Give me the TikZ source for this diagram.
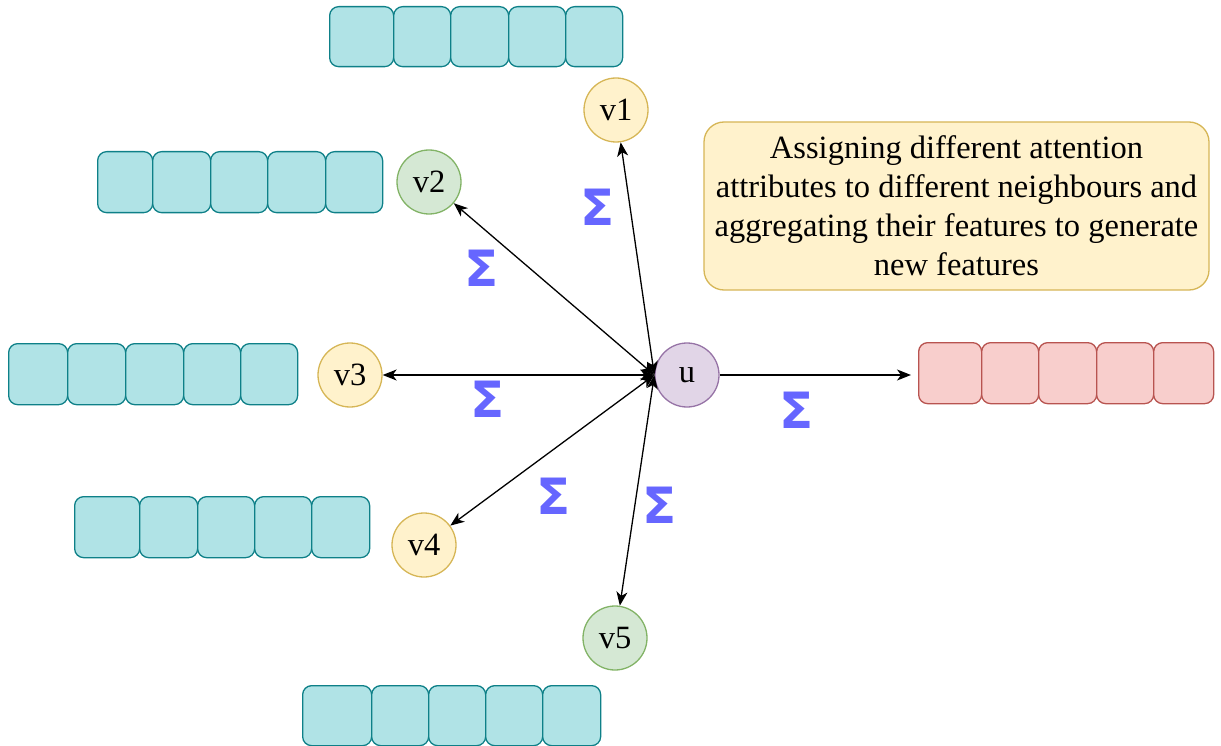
\documentclass[tikz,border=0pt]{standalone}
\usepackage{fontspec}
\setmainfont{Liberation Serif}
\newfontfamily\sigfont{DejaVu Sans Bold}
\usetikzlibrary{arrows.meta}

\definecolor{tealfill}{HTML}{B0E3E6}
\definecolor{tealline}{HTML}{0E8088}
\definecolor{redfill}{HTML}{F8CECC}
\definecolor{redline}{HTML}{B85450}
\definecolor{yelfill}{HTML}{FFF2CC}
\definecolor{yelline}{HTML}{D6B656}
\definecolor{grnfill}{HTML}{D5E8D4}
\definecolor{grnline}{HTML}{82B366}
\definecolor{purfill}{HTML}{E1D5E7}
\definecolor{purline}{HTML}{9673A6}
\definecolor{sigblue}{HTML}{6666FF}

\tikzset{
  cellbox/.style={draw, line width=1.3pt, rounded corners=9pt},
  tealcell/.style={cellbox, fill=tealfill, draw=tealline},
  redcell/.style={cellbox, fill=redfill, draw=redline},
  vnode/.style={circle, minimum size=64pt, inner sep=0pt, line width=1.3pt,
    font=\fontsize{32.5}{32.5}\selectfont},
  yelnode/.style={vnode, fill=yelfill, draw=yelline},
  grnnode/.style={vnode, fill=grnfill, draw=grnline},
  purnode/.style={vnode, fill=purfill, draw=purline},
  link/.style={line width=1.3pt, {Stealth[length=14pt,width=11pt,inset=4pt]}-{Stealth[length=14pt,width=11pt,inset=4pt]}},
  outlink/.style={line width=1.3pt, -{Stealth[length=14pt,width=11pt,inset=4pt]}},
  sigma/.style={text=sigblue, inner sep=0pt, font=\fontsize{50}{50}\sigfont},
  notebox/.style={draw=yelline, fill=yelfill, line width=1.3pt, rounded corners=20pt}
}

\begin{document}
\begin{tikzpicture}[x=1pt,y=-1pt]
\useasboundingbox (0,0) rectangle (1221,746);

% feature vectors: rows of five cells
\foreach \row/\kind/\top/\bot/\xs in {
  top/tealcell/6/66/{329,393,450,508,565,622},
  left/tealcell/151/212/{97,152,210,267,325,382},
  mid/tealcell/343/404/{8,67,125,183,240,297},
  low/tealcell/496/557/{74,139,197,254,311,369},
  bot/tealcell/685/745/{302,371,428,485,542,600},
  out/redcell/342/403/{918,981,1038,1096,1153,1213}}{
  \foreach \xa [count=\i, remember=\xa as \xp (initially 0)] in \xs {
    \ifnum\i>1
      \node[\kind, inner sep=0pt, minimum width={\xa-\xp}, minimum height={\bot-\top},
            anchor=north west] (\row\the\numexpr\i-1\relax) at (\xp,\top) {};
    \fi
  }
}

% graph nodes
\node[purnode] (u)  at (687,375) {u};
\node[yelnode] (v1) at (616,110) {v1};
\node[grnnode] (v2) at (429,182) {v2};
\node[yelnode] (v3) at (350,375) {v3};
\node[yelnode] (v4) at (424,545) {v4};
\node[grnnode] (v5) at (615,638) {v5};

% attention edges
\draw[link] (u.west) -- (v1);
\draw[link] (u.west) -- (v2);
\draw[link] (u.west) -- (v3);
\draw[link] (u.west) -- (v4);
\draw[link] (u.west) -- (v5);
\draw[outlink, shorten >=7pt] (u.east) -- (u.east -| out1.west);

% aggregation marks
\node[sigma] (s1) at (598,207) {Σ};
\node[sigma] (s2) at (482,268) {Σ};
\node[sigma] (s3) at (488,399) {Σ};
\node[sigma] (s4) at (554,496) {Σ};
\node[sigma] (s5) at (660,505) {Σ};
\node[sigma] (s6) at (797,410) {Σ};

% explanatory note
\node[notebox, minimum width=505pt, minimum height=168pt, align=center,
      font=\fontsize{32.5}{39}\selectfont] (note) at (956.5,206)
  {Assigning different attention\\attributes to different neighbours and\\aggregating their features to generate\\new features};
\end{tikzpicture}
\end{document}
